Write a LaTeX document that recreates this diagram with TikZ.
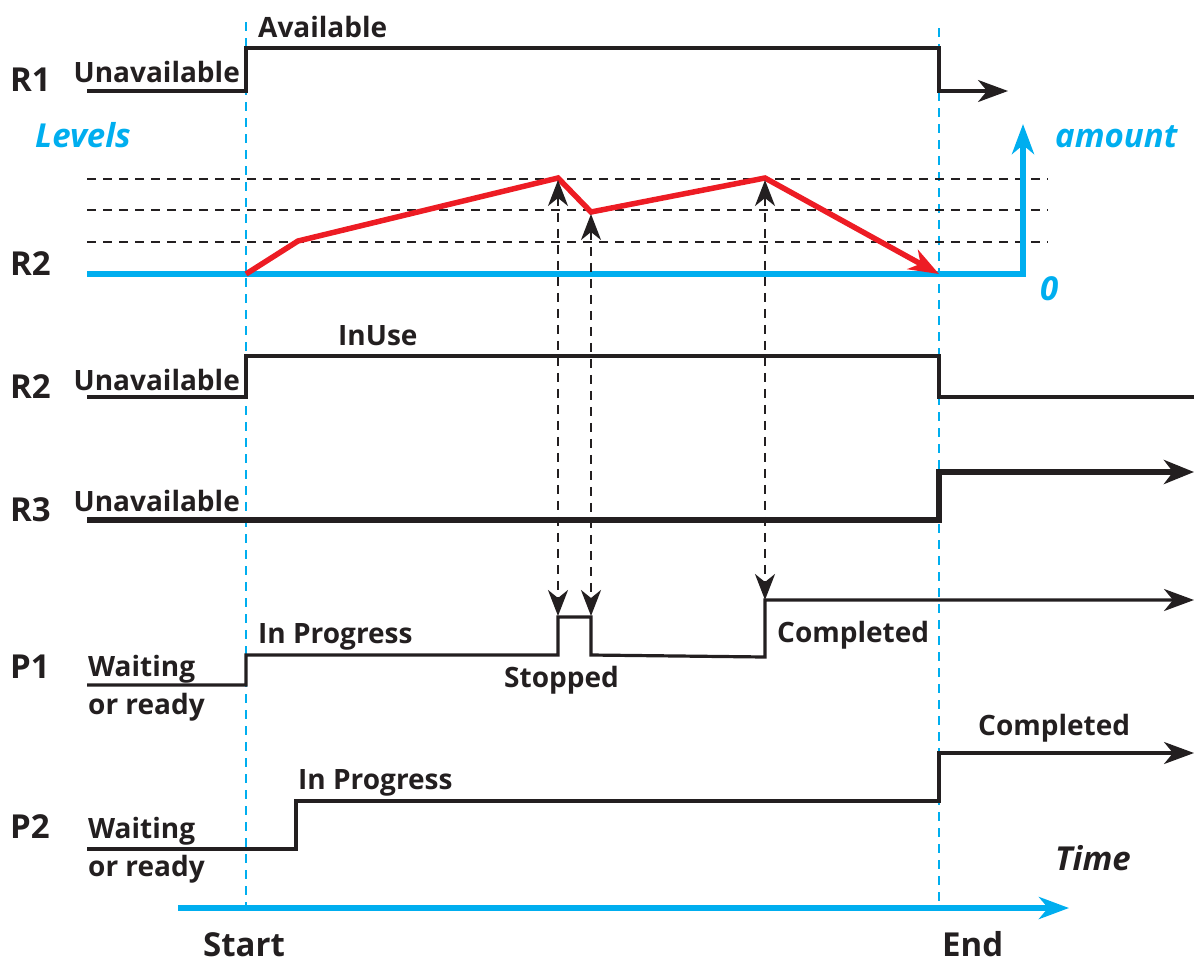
\documentclass[tikz,border=0pt]{standalone}
\usepackage{fontspec}
\setmainfont{Open Sans}
\usetikzlibrary{arrows.meta}
\definecolor{cy}{RGB}{0,174,239}
\definecolor{rd}{RGB}{237,28,36}
\definecolor{ink}{RGB}{35,31,32}
\tikzset{
  wave/.style={draw=ink,line width=3.2pt,line join=miter},
  thickwave/.style={draw=ink,line width=5.5pt,line join=miter},
  guide/.style={draw=cy,line width=2.6pt,dash pattern=on 9pt off 7pt},
  level/.style={draw=ink,line width=2.2pt,dash pattern=on 9pt off 7pt},
  link/.style={draw=ink,line width=2.6pt,dash pattern=on 9pt off 7pt,
    {Stealth[length=26pt,width=20pt,inset=8pt]}-{Stealth[length=26pt,width=20pt,inset=8pt]}},
  blk/.style={-{Stealth[length=30pt,width=22pt,inset=9pt]}},
  lbl/.style={font=\fontsize{28}{31}\selectfont\bfseries,text=ink,inner sep=0pt},
  big/.style={font=\fontsize{33}{36}\selectfont\bfseries,text=ink,inner sep=0pt},
  cyt/.style={font=\fontsize{33}{36}\selectfont\bfseries\itshape,text=cy,inner sep=0pt},
}
\begin{document}
\begin{tikzpicture}[x=1pt,y=-1pt]
\useasboundingbox (0,0) rectangle (1194,962);
% guides
\coordinate (s0) at (246,22); \coordinate (s1) at (246,908);
\coordinate (e0) at (939,28); \coordinate (e1) at (939,910);
\draw[guide] (s0) -- (s1);
\draw[guide] (e0) -- (e1);
% row labels
\node[big,anchor=base west] (lr1) at (10,91) {R1};
\node[big,anchor=base west] (lr2a) at (10,275) {R2};
\node[big,anchor=base west] (lr2b) at (10,398) {R2};
\node[big,anchor=base west] (lr3) at (10,521) {R3};
\node[big,anchor=base west] (lp1) at (10,678) {P1};
\node[big,anchor=base west] (lp2) at (10,838) {P2};
% R1
\coordinate (a0) at (87,91); \coordinate (a1) at (246,91); \coordinate (a2) at (246,48);
\coordinate (a3) at (939,48); \coordinate (a4) at (939,91); \coordinate (a5) at (1008,91);
\draw[wave,blk] (a0) -- (a1) -- (a2) -- (a3) -- (a4) -- (a5);
\node[lbl,anchor=base east] (u1) at (240,82) {Unavailable};
\node[lbl,anchor=base west] (av) at (258,37) {Available};
% Levels
\node[cyt,anchor=base west] (lev) at (35,147) {Levels};
\node[cyt,anchor=base west] (amt) at (1055,147) {amount};
\node[cyt,anchor=base west] (zero) at (1040,300) {0};
\foreach \yy/\n in {179/l1,210/l2,242/l3}{
  \coordinate (\n a) at (87,\yy); \coordinate (\n b) at (1048,\yy);
  \draw[level] (\n a) -- (\n b);
}
\coordinate (b0) at (87,274); \coordinate (b1) at (1023,274); \coordinate (b2) at (1023,124);
\draw[cy,line width=5.5pt,-{Stealth[length=30pt,width=22pt,inset=9pt]}] (b0) -- (b1) -- (b2);
\coordinate (r0) at (246,274); \coordinate (r1) at (298,241); \coordinate (r2) at (558,178);
\coordinate (r3) at (591,212); \coordinate (r4) at (765,178); \coordinate (r5) at (939,274);
\draw[rd,line width=5.5pt,line join=miter,-{Stealth[length=30pt,width=22pt,inset=9pt]}] (r0) -- (r1) -- (r2) -- (r3) -- (r4) -- (r5);
% R2 in use
\coordinate (c0) at (87,397); \coordinate (c1) at (246,397); \coordinate (c2) at (246,356);
\coordinate (c3) at (939,356); \coordinate (c4) at (939,397); \coordinate (c5) at (1194,397);
\draw[wave] (c0) -- (c1) -- (c2) -- (c3) -- (c4) -- (c5);
\node[lbl,anchor=base east] (u2) at (240,390) {Unavailable};
\node[lbl,anchor=base west] (iu) at (338,345) {InUse};
% R3
\coordinate (d0) at (87,520); \coordinate (d1) at (939,520); \coordinate (d2) at (939,472);
\coordinate (d3) at (1194,472);
\draw[thickwave,-{Stealth[length=30pt,width=24pt,inset=9pt]}] (d0) -- (d1) -- (d2) -- (d3);
\node[lbl,anchor=base east] (u3) at (240,511) {Unavailable};
% P1
\coordinate (p0) at (87,685); \coordinate (p1) at (246,685); \coordinate (p2) at (246,655);
\coordinate (p3) at (558,655); \coordinate (p4) at (558,617); \coordinate (p5) at (591,617);
\coordinate (p6) at (591,655); \coordinate (p7) at (765,657); \coordinate (p8) at (765,600);
\coordinate (p9) at (1194,600);
\draw[wave,blk] (p0) -- (p1) -- (p2) -- (p3) -- (p4) -- (p5) -- (p6) -- (p7) -- (p8) -- (p9);
\node[lbl,anchor=base west] (w1) at (88,676) {Waiting};
\node[lbl,anchor=base west] (o1) at (88,714) {or ready};
\node[lbl,anchor=base west] (ip1) at (258,643) {In Progress};
\node[lbl,anchor=base west] (st) at (504,687) {Stopped};
\node[lbl,anchor=base west] (cp1) at (777,642) {Completed};
% links
\coordinate (k1a) at (558,180); \coordinate (k1b) at (558,616);
\coordinate (k2a) at (591,214); \coordinate (k2b) at (591,616);
\coordinate (k3a) at (765,180); \coordinate (k3b) at (765,600);
\draw[link] (k1a) -- (k1b);
\draw[link] (k2a) -- (k2b);
\draw[link] (k3a) -- (k3b);
% P2
\coordinate (q0) at (87,849); \coordinate (q1) at (296,849); \coordinate (q2) at (296,801);
\coordinate (q3) at (939,801); \coordinate (q4) at (939,753); \coordinate (q5) at (1194,753);
\draw[wave,blk] (q0) -- (q1) -- (q2) -- (q3) -- (q4) -- (q5);
\node[lbl,anchor=base west] (w2) at (88,838) {Waiting};
\node[lbl,anchor=base west] (o2) at (88,876) {or ready};
\node[lbl,anchor=base west] (ip2) at (298,789) {In Progress};
\node[lbl,anchor=base west] (cp2) at (978,735) {Completed};
% time axis
\coordinate (t0) at (178,908); \coordinate (t1) at (1069,908);
\draw[cy,line width=5.5pt,-{Stealth[length=30pt,width=22pt,inset=9pt]}] (t0) -- (t1);
\node[font=\fontsize{33}{36}\selectfont\bfseries\itshape,text=ink,inner sep=0pt,anchor=base west] (tm) at (1055,870) {Time};
\node[big,anchor=base west] (stt) at (203,956) {Start};
\node[big,anchor=base west] (end) at (942,956) {End};
\end{tikzpicture}
\end{document}
